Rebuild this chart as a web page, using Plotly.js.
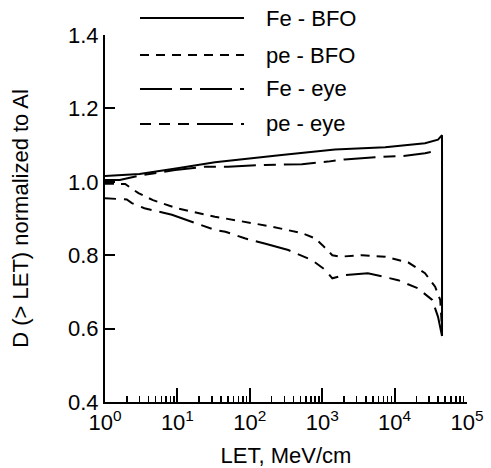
<!DOCTYPE html>
<html>
<head>
<meta charset="utf-8">
<script src="https://cdn.plot.ly/plotly-3.0.1.min.js"></script>
<style>html,body{margin:0;padding:0;background:#fff;}#chart{width:491px;height:468px;}</style>
</head>
<body>
<div id="chart"></div>
<script>
// Series names (legend labels)
const seriesNames = ["Fe - BFO", "pe - BFO", "Fe - eye", "pe - eye"];

// Fe - BFO (solid)
const feBfoLET = [1, 3, 10, 33, 275, 1500, 7400, 26300, 39800, 45200, 45200];
const feBfoD   = [1.016, 1.021, 1.037, 1.053, 1.073, 1.088, 1.094, 1.105, 1.115, 1.127, 0.58];

// pe - BFO (short dash)
const peBfoLET = [1, 1.9, 2.9, 4.6, 9.8, 24, 33, 46, 94, 200, 525, 800, 1000, 1380, 1780, 3550, 7400, 15500, 26300, 36300, 42700, 45200];
const peBfoD   = [0.995, 0.994, 0.969, 0.950, 0.928, 0.910, 0.905, 0.900, 0.889, 0.878, 0.860, 0.846, 0.828, 0.800, 0.796, 0.800, 0.796, 0.780, 0.751, 0.714, 0.678, 0.60];

// Fe - eye (long-short dash)
const feEyeLET = [1, 1.6, 3.2, 4.9, 9.3, 24, 50, 160, 525, 1200, 2040, 5370, 12600, 26300, 31600];
const feEyeD   = [1.005, 1.005, 1.018, 1.023, 1.032, 1.041, 1.041, 1.046, 1.048, 1.055, 1.061, 1.067, 1.070, 1.078, 1.081];

// pe - eye (short-short-long dash)
const peEyeLET = [1, 2, 2.35, 3.5, 8.4, 17, 33, 46, 85, 160, 340, 720, 1100, 1380, 2040, 4270, 11200, 20900, 33100, 39800, 45200];
const peEyeD   = [0.955, 0.952, 0.942, 0.928, 0.910, 0.889, 0.869, 0.864, 0.846, 0.832, 0.814, 0.787, 0.760, 0.737, 0.746, 0.751, 0.732, 0.710, 0.678, 0.632, 0.58];

// Axis ticks
const xTickVals = [1, 10, 100, 1000, 10000, 100000];
const xTickExp  = ["0", "1", "2", "3", "4", "5"];
const yTickVals = [0.4, 0.6, 0.8, 1.0, 1.2, 1.4];
const yTickText = ["0.4", "0.6", "0.8", "1.0", "1.2", "1.4"];

const xTickText = xTickExp.map(e => "10<sup>" + e + "</sup>");

const dashes = ["solid", "9px,7px", "32px,8px,12px,8px", "11px,8px,11px,8px,11px,8px,36px,8px"];
const xs = [feBfoLET, peBfoLET, feEyeLET, peEyeLET];
const ys = [feBfoD, peBfoD, feEyeD, peEyeD];

const font = {family: "Liberation Sans, Arial, sans-serif", size: 22, color: "#000"};

const traces = seriesNames.map((name, i) => ({
  x: xs[i], y: ys[i], name: name, type: "scatter", mode: "lines",
  line: {color: "#000", width: 2, dash: dashes[i], shape: "linear"},
  showlegend: false
}));

// Manual legend (long line samples like the reference)
const legendY = [1.046, 0.9455, 0.853, 0.7575];
const shapes = seriesNames.map((n, i) => ({
  type: "line", xref: "paper", yref: "paper",
  x0: 0.0967, x1: 0.384, y0: legendY[i], y1: legendY[i],
  line: {color: "#000", width: 2, dash: dashes[i]}
}));
const annotations = seriesNames.map((n, i) => ({
  xref: "paper", yref: "paper", x: 0.44, y: legendY[i],
  xanchor: "left", yanchor: "middle", text: n, showarrow: false, font: font
}));

const layout = {
  width: 491, height: 468,
  margin: {l: 105, r: 24, t: 35, b: 66},
  paper_bgcolor: "#fff", plot_bgcolor: "#fff",
  font: font,
  showlegend: false,
  xaxis: {
    type: "log", range: [0, 5],
    tickvals: xTickVals, ticktext: xTickText,
    ticks: "inside", ticklen: 14, tickwidth: 2, tickcolor: "#000",
    minor: {ticks: "inside", ticklen: 6, tickwidth: 1.5, tickcolor: "#000", dtick: "D1"},
    showline: true, linewidth: 2, linecolor: "#000", mirror: false,
    showgrid: false, zeroline: false,
    tickfont: font,
    title: {text: "LET, MeV/cm", font: font, standoff: 18}
  },
  yaxis: {
    range: [0.4, 1.4],
    tickvals: yTickVals, ticktext: yTickText,
    ticks: "inside", ticklen: 10, tickwidth: 2, tickcolor: "#000",
    showline: true, linewidth: 2, linecolor: "#000",
    showgrid: false, zeroline: false,
    tickfont: font,
    title: {text: "D (> LET) normalized to Al", font: font, standoff: 33}
  },
  shapes: shapes,
  annotations: annotations
};

Plotly.newPlot("chart", traces, layout, {staticPlot: true, displayModeBar: false});
</script>
</body>
</html>
